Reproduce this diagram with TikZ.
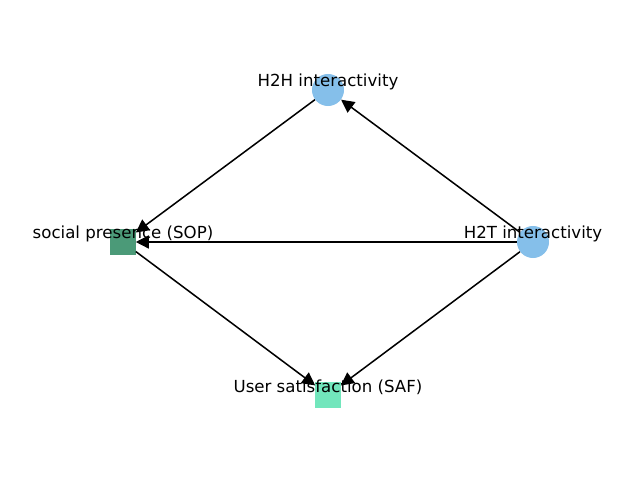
\documentclass[tikz,border=0pt]{standalone}
\usepackage{fontspec}
\setmainfont{DejaVu Sans}
\usetikzlibrary{arrows.meta}
\definecolor{nodeblue}{HTML}{85BFEA}
\definecolor{darkgreen}{HTML}{4B9A78}
\definecolor{lightgreen}{HTML}{72E6BC}
\tikzset{
  circnode/.style={circle, fill=nodeblue, inner sep=0pt, minimum size=0.32in},
  sqnode/.style={rectangle, inner sep=0pt, minimum size=0.25in},
  lbl/.style={font=\fontsize{12pt}{14pt}\selectfont, inner sep=0pt, text=black},
  edge/.style={draw=black, line width=1.1pt, -{Triangle[length=0.13in, width=0.13in]}}
}
\begin{document}
\begin{tikzpicture}[x=0.01in, y=-0.01in]
\useasboundingbox (0,0) rectangle (640,480);
\node[circnode] (h2h) at (328,90) {};
\node[circnode] (h2t) at (533,242) {};
\node[sqnode, fill=darkgreen] (sop) at (123,242) {};
\node[sqnode, fill=lightgreen] (saf) at (328,395) {};
\draw[edge] (h2h) -- (sop);
\draw[edge] (h2t) -- (h2h);
\draw[edge] (h2t) -- (sop);
\draw[edge] (h2t) -- (saf);
\draw[edge] (sop) -- (saf);
\node[lbl] (lh2h) at (328,82) {H2H interactivity};
\node[lbl] (lh2t) at (533,234) {H2T interactivity};
\node[lbl] (lsop) at (123,234) {social presence (SOP)};
\node[lbl] (lsaf) at (328,387) {User satisfaction (SAF)};
\end{tikzpicture}
\end{document}
